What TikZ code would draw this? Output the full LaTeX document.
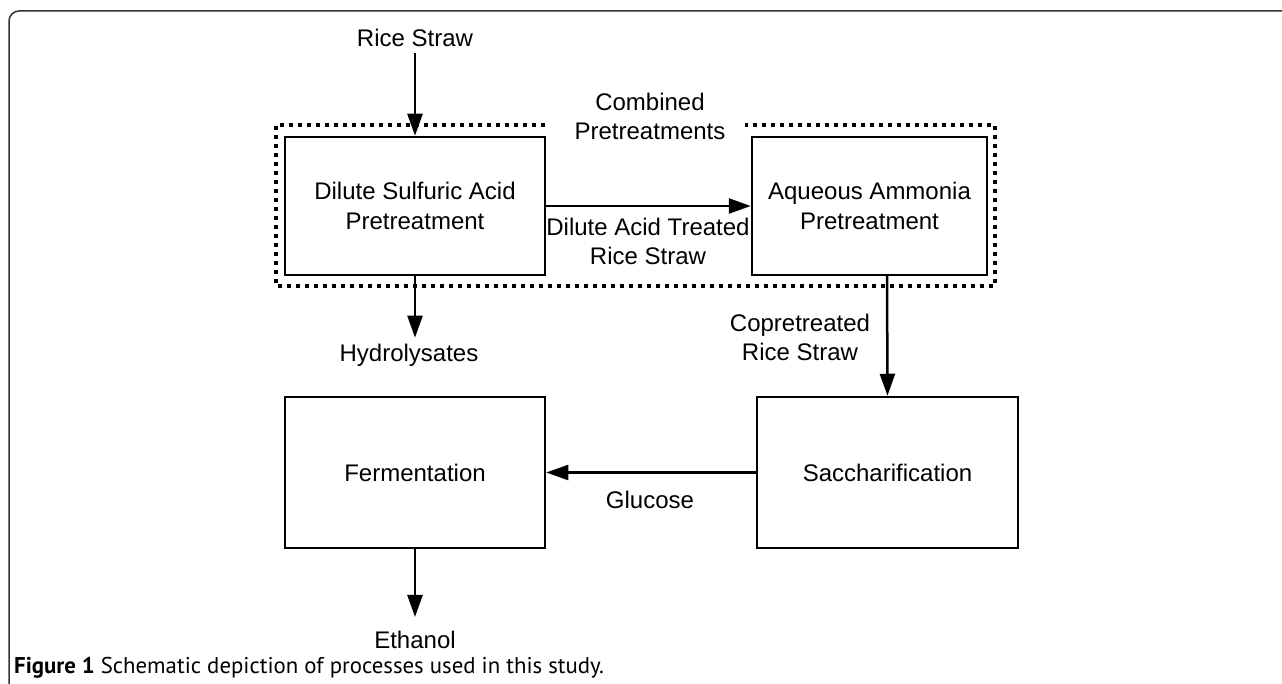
\documentclass[tikz,border=0pt]{standalone}
\usepackage{fontspec}
\setmainfont{Liberation Sans}
\newfontfamily\capfont{PT Sans}
\usetikzlibrary{arrows.meta}
\begin{document}
\begin{tikzpicture}[x=1pt,y=-1pt,
  box/.style={draw, line width=2.5pt, align=center, font=\fontsize{24}{30}\selectfont},
  lbl/.style={align=center, inner sep=2pt, font=\fontsize{24}{29}\selectfont},
  arr/.style={line width=2.5pt, -{Triangle[length=22pt,width=15pt]}},
  dotbox/.style={line width=4pt, dash pattern=on 4pt off 5pt}
]
\useasboundingbox (0,0) rectangle (1282,684);
% outer frame
\draw[line width=1.5pt, black!80, rounded corners=10pt] (9,684) -- (9,11) -- (1282,11);
% combined pretreatment dotted enclosure
\draw[dotbox] (545,125) -- (276,125) -- (276,286) -- (995,286) -- (995,125) -- (745,125);
% process boxes
\node[box, minimum width=260pt, minimum height=138pt] (dsa) at (415,206) {Dilute Sulfuric Acid\\Pretreatment};
\node[box, minimum width=235pt, minimum height=138pt] (aap) at (869.5,206) {Aqueous Ammonia\\Pretreatment};
\node[box, minimum width=261pt, minimum height=151pt] (sac) at (887.5,472.5) {Saccharification};
\node[box, minimum width=260pt, minimum height=151pt] (fer) at (415,472.5) {Fermentation};
% labels
\node[lbl] (rice) at (415,38) {Rice Straw};
\node[lbl] (comb) at (650,116) {Combined\\Pretreatments};
\node[lbl] (dat) at (648,241) {Dilute Acid Treated\\Rice Straw};
\node[lbl] (hyd) at (409,355) {Hydrolysates};
\node[lbl] (cop) at (800,337) {Copretreated\\Rice Straw};
\node[lbl] (glu) at (650,500) {Glucose};
\node[lbl] (eth) at (415,640) {Ethanol};
\coordinate (aapout) at (887,275);
% connectors
\draw[arr, shorten <=4pt] (rice.south) -- (dsa.north);
\draw[arr] (dsa.east) -- (aap.west);
\draw[arr, shorten >=4pt] (dsa.south) -- (hyd.north -| dsa.south);
\draw[arr] (aapout) -- (sac.north);
\draw[arr] (sac.west) -- (fer.east);
\draw[arr, shorten >=12pt] (fer.south) -- (eth.north);
% caption
\node[anchor=west, inner sep=0pt, font=\capfont\fontsize{22.8}{26}\selectfont] (cap) at (14,668) {\textbf{Figure 1} Schematic depiction of processes used in this study.};
\end{tikzpicture}
\end{document}
